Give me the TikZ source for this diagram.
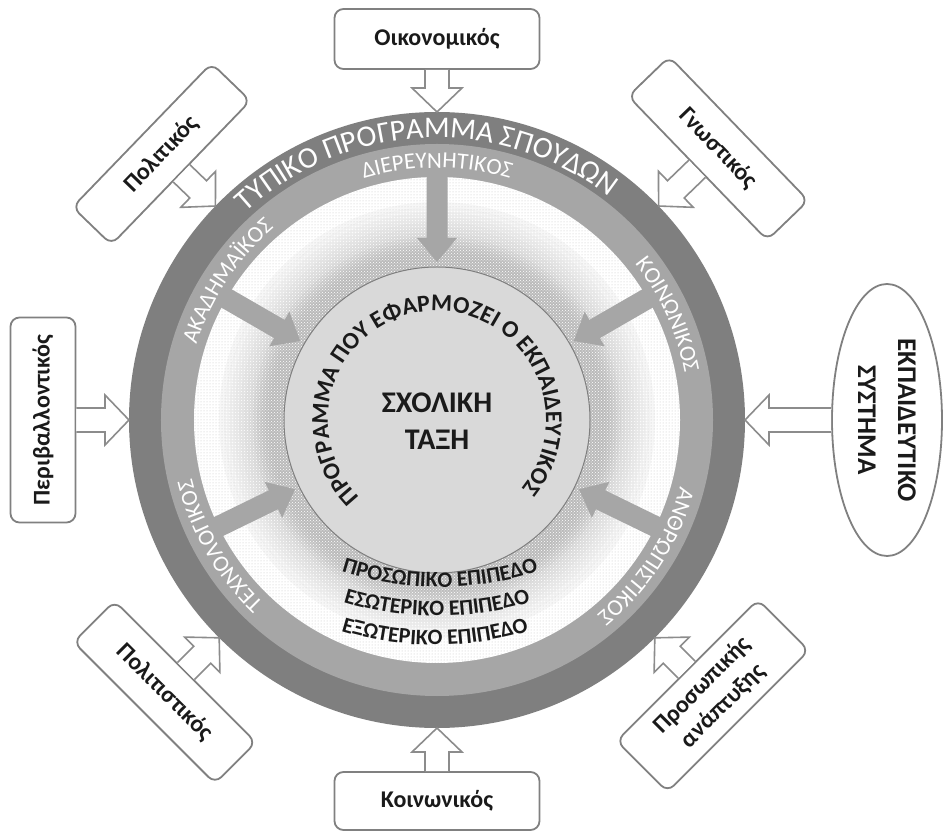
\documentclass[tikz,border=0pt]{standalone}
\usepackage{fontspec}
\setmainfont{Carlito}
\usetikzlibrary{calc,decorations.text,shapes.geometric,patterns}
\definecolor{ringdark}{HTML}{7F7F7F}
\definecolor{ringmid}{HTML}{A6A6A6}
\definecolor{innerfill}{HTML}{D9D9D9}
\definecolor{boxline}{HTML}{808080}
\definecolor{arrowline}{HTML}{8C8C8C}
\definecolor{txt}{HTML}{1A1A1A}
\newcommand\ringfont{\fontsize{30}{36}\selectfont}
\newcommand\bandfont{\fontsize{23}{27}\selectfont}
\newcommand\innerfont{\bfseries\fontsize{24}{28}\selectfont}
\newcommand\levelfont{\bfseries\fontsize{22}{26}\selectfont}
\newcommand\boxfont{\bfseries\fontsize{24}{29}\selectfont}
\newcommand\hollowarrow[2]{%
  \path let \p1=($(#2)-(#1)$) in \pgfextra{%
    \pgfmathsetmacro\haang{atan2(\y1,\x1)}%
    \pgfmathsetmacro\halen{veclen(\x1,\y1)}%
    \xdef\haang{\haang}\xdef\halen{\halen}};
  \draw[openarrow, shift={(#1)}, rotate=\haang]
    (0,-12) -- ({\halen-24},-12) -- ({\halen-24},-25) -- (\halen,0)
    -- ({\halen-24},25) -- ({\halen-24},12) -- (0,12);
}
\tikzset{
  factor/.style={draw=boxline, line width=1.8pt, rounded corners=9pt, fill=white, text=txt, font=\boxfont, align=center, inner sep=2pt},
  openarrow/.style={draw=arrowline, line width=1.6pt, fill=white, line join=miter},
  innerarrow/.style={fill=ringmid},
}
\begin{document}
\begin{tikzpicture}[x=1pt,y=1pt]
\useasboundingbox (-437,-414) rectangle (507,420);
% rings
\fill[ringdark] (0,0) circle (308);
\fill[ringmid] (0,0) circle (276);
\fill[white] (0,0) circle (243);
\foreach \r/\g in {218/3,213/5,208/7,203/9,198/11,193/13,188/15,184/18,180/21,176/24,172/26,168/27}{
  \fill[black!\g] (0,0) circle (\r);
}
\fill[pattern=dots, pattern color=gray!45] (0,0) circle (243);
\fill[pattern=crosshatch dots, pattern color=white] (0,0) circle (212);
% inner thick arrows
\foreach \a in {90,30,150,-26,206}{
  \fill[innerarrow, rotate=\a] (247,-10.5) -- (182,-10.5) -- (182,-20) -- (158,0) -- (182,20) -- (182,10.5) -- (247,10.5) -- cycle;
}
% inner circle
\node[circle, fill=innerfill, draw=ringdark, line width=1pt, minimum size=306, inner sep=0] (core) at (0,0) {};
\node[font=\bfseries\fontsize{30}{37}\selectfont, text=txt, align=center] (class) at (0,-1) {ΣΧΟΛΙΚΗ\\ΤΑΞΗ};
% curved texts
\path[decorate, decoration={text along path, text={|\ringfont|ΤΥΠΙΚΟ ΠΡΟΓΡΑΜΜΑ ΣΠΟΥΔΩΝ}, text color=white, text align=center}] (152:282) arc[start angle=152, end angle=33, radius=282];
\path[decorate, decoration={text along path, text={|\bandfont|ΔΙΕΡΕΥΝΗΤΙΚΟΣ}, text color=white, text align=center}] (130:252) arc[start angle=130, end angle=50, radius=252];
\path[decorate, decoration={text along path, text={|\bandfont|ΑΚΑΔΗΜΑΪΚΟΣ}, text color=white, text align=center}] (186:252) arc[start angle=186, end angle=107, radius=252];
\path[decorate, decoration={text along path, text={|\bandfont|ΚΟΙΝΩΝΙΚΟΣ}, text color=white, text align=center}] (64:252) arc[start angle=64, end angle=-15, radius=252];
\path[decorate, decoration={text along path, text={|\bandfont|ΑΝΘΡΩΠΙΣΤΙΚΟΣ}, text color=white, text align=center}] (10:252) arc[start angle=10, end angle=-76, radius=252];
\path[decorate, decoration={text along path, text={|\bandfont|ΤΕΧΝΟΛΟΓΙΚΟΣ}, text color=white, text align=center}] (252:252) arc[start angle=252, end angle=168, radius=252];
\path[decorate, decoration={text along path, text={|\innerfont|ΠΡΟΓΡΑΜΜΑ ΠΟΥ ΕΦΑΡΜΟΖΕΙ Ο ΕΚΠΑΙΔΕΥΤΙΚΟΣ}, text color=txt, text align=center}] (252:109) arc[start angle=252, end angle=-66, radius=109];
\path[decorate, decoration={text along path, text={|\levelfont|ΠΡΟΣΩΠΙΚΟ ΕΠΙΠΕΔΟ}, text color=txt, text align=center}] ($(3,153)+(235:320)$) arc[start angle=235, end angle=305, radius=320];
\path[decorate, decoration={text along path, text={|\levelfont|ΕΣΩΤΕΡΙΚΟ ΕΠΙΠΕΔΟ}, text color=txt, text align=center}] ($(0,124)+(235:320)$) arc[start angle=235, end angle=305, radius=320];
\path[decorate, decoration={text along path, text={|\levelfont|ΕΞΩΤΕΡΙΚΟ ΕΠΙΠΕΔΟ}, text color=txt, text align=center}] ($(-2,95)+(235:320)$) arc[start angle=235, end angle=305, radius=320];
% outer factors
\node[factor, minimum width=205, minimum height=60] (oik) at (90:381) {Οικονομικός};
\node[factor, minimum width=200, minimum height=54, rotate=46] (pol) at (136:383) {Πολιτικός};
\node[factor, minimum width=200, minimum height=57, rotate=-46] (gno) at (44:391) {Γνωστικός};
\node[factor, minimum width=205, minimum height=65, rotate=90] (per) at (180:394) {Περιβαλλοντικός};
\node[ellipse, draw=boxline, line width=1.8pt, fill=white, text=txt, align=center, inner sep=0, font=\bfseries\fontsize{27}{40}\selectfont, minimum width=272, minimum height=110, rotate=-90] (ekp) at (0:450) {ΕΚΠΑΙΔΕΥΤΙΚΟ\\ΣΥΣΤΗΜΑ};
\node[factor, minimum width=205, minimum height=58] (koi) at (270:381) {Κοινωνικός};
\node[factor, minimum width=200, minimum height=58, rotate=-45] (polit) at (225:385) {Πολιτιστικός};
\node[factor, minimum width=200, minimum height=72, rotate=45] (pros) at (-45:390) {Προσωπικής\\ανάπτυξης};
% arrow tips on the ring
\coordinate (t-oik) at (90:308);
\coordinate (t-pol) at (136:308);
\coordinate (t-gno) at (44:308);
\coordinate (t-per) at (180:308);
\coordinate (t-ekp) at (0:308);
\coordinate (t-koi) at (270:308);
\coordinate (t-polit) at (225:308);
\coordinate (t-pros) at (-45:308);
\hollowarrow{oik.south}{t-oik}
\hollowarrow{pol.south}{t-pol}
\hollowarrow{gno.south}{t-gno}
\hollowarrow{per.south}{t-per}
\hollowarrow{ekp.south}{t-ekp}
\hollowarrow{koi.north}{t-koi}
\hollowarrow{polit.north}{t-polit}
\hollowarrow{pros.north}{t-pros}
\end{tikzpicture}
\end{document}
